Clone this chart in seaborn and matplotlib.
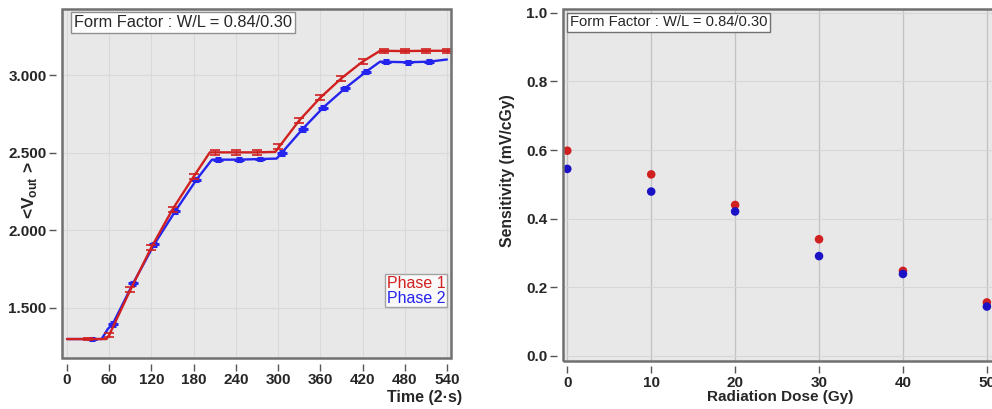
import matplotlib
matplotlib.use("Agg")
import matplotlib.pyplot as plt
from matplotlib.patches import Rectangle
import seaborn as sns
import pandas as pd

sns.set_theme(style="white")
plt.rcParams['font.family'] = ['Liberation Sans', 'DejaVu Sans']
plt.rcParams['mathtext.fontset'] = 'custom'
plt.rcParams['mathtext.bf'] = 'Liberation Sans:bold'
plt.rcParams['mathtext.rm'] = 'Liberation Sans'

RED = "#d02020"
BLUE = "#2424ee"
BLUE_DOT = "#1a12c4"
BG = "#e8e8e8"

# ---- left panel: Vout vs time ----
# line vertices
p1_line_x = [0, 56, 60, 90, 120, 150, 180, 203, 240, 270, 296, 330, 360, 390, 420, 445, 480, 510, 545]
p1_line_y = [1.300, 1.300, 1.326, 1.616, 1.891, 2.135, 2.346, 2.502, 2.502, 2.502, 2.505, 2.707, 2.854,
             2.979, 3.086, 3.156, 3.154, 3.156, 3.156]
p2_line_x = [0, 49, 54, 58, 65, 94, 124, 154, 184, 206, 244, 275, 298, 305, 335, 364, 395, 425, 445, 484, 515, 540]
p2_line_y = [1.300, 1.300, 1.335, 1.365, 1.397, 1.659, 1.910, 2.124, 2.326, 2.455, 2.455, 2.459, 2.462,
             2.498, 2.653, 2.790, 2.914, 3.021, 3.086, 3.082, 3.086, 3.100]

# error bar points
p1_err_x = [30, 60, 90, 120, 150, 180, 210, 240, 270, 300, 330, 360, 390, 420, 450, 480, 510, 540]
p1_err_y = [1.300, 1.326, 1.616, 1.891, 2.135, 2.346, 2.502, 2.502, 2.502, 2.540, 2.707, 2.854, 2.979,
            3.086, 3.156, 3.154, 3.156, 3.156]
p1_err = [0.008, 0.016, 0.016, 0.016, 0.016, 0.016, 0.014, 0.014, 0.014, 0.018, 0.016, 0.016, 0.016,
          0.014, 0.013, 0.013, 0.013, 0.013]
p2_err_x = [35, 65, 94, 124, 154, 184, 215, 244, 275, 305, 335, 364, 395, 425, 454, 484, 515]
p2_err_y = [1.300, 1.397, 1.659, 1.910, 2.124, 2.326, 2.455, 2.455, 2.459, 2.498, 2.653, 2.790, 2.914,
            3.021, 3.086, 3.082, 3.086]
p2_err = [0.006, 0.011, 0.011, 0.011, 0.011, 0.011, 0.009, 0.009, 0.009, 0.011, 0.011, 0.011, 0.011,
          0.011, 0.009, 0.009, 0.009]

time_ticks = [0, 60, 120, 180, 240, 300, 360, 420, 480, 540]
vout_ticks = [1.5, 2.0, 2.5, 3.0]

# ---- right panel: sensitivity vs dose ----
dose = [0, 10, 20, 30, 40, 50]
sens_phase1 = [0.598, 0.529, 0.440, 0.340, 0.248, 0.156]
sens_phase2 = [0.545, 0.479, 0.421, 0.291, 0.239, 0.144]
dose_ticks = [0, 10, 20, 30, 40, 50]
sens_ticks = [0.0, 0.2, 0.4, 0.6, 0.8, 1.0]

label_text = "Form Factor : W/L = 0.84/0.30"

fig = plt.figure(figsize=(9.92, 4.09), dpi=100)
ax1 = fig.add_axes([0.0625, 0.1247, 0.3921, 0.8533])
ax2 = fig.add_axes([0.5672, 0.1181, 0.4378, 0.8599])


def style_axes(ax):
    ax.set_facecolor(BG)
    for s in ax.spines.values():
        s.set_visible(False)
    ax.spines['left'].set_position(('outward', 4))
    ax.spines['bottom'].set_position(('outward', 4))
    ax.add_patch(Rectangle((0, 0), 1, 1, transform=ax.transAxes, fill=False,
                           edgecolor="#707070", linewidth=1.8, clip_on=False, zorder=5))
    ax.tick_params(axis='both', which='major', direction='out', length=5, width=1,
                   color="#555555", labelsize=11, pad=2, bottom=True, left=True)
    for lab in ax.get_xticklabels() + ax.get_yticklabels():
        lab.set_fontweight('bold')


# left panel
df1 = pd.DataFrame({"t": p1_line_x, "v": p1_line_y})
df2 = pd.DataFrame({"t": p2_line_x, "v": p2_line_y})
sns.lineplot(data=df2, x="t", y="v", ax=ax1, color=BLUE, linewidth=1.7, estimator=None, zorder=3)
sns.lineplot(data=df1, x="t", y="v", ax=ax1, color=RED, linewidth=1.7, estimator=None, zorder=4)
ax1.errorbar(p2_err_x, p2_err_y, yerr=p2_err, fmt='_', color=BLUE, ms=7, mew=2.2,
             elinewidth=1, capsize=2.5, capthick=1, zorder=3)
ax1.errorbar(p1_err_x, p1_err_y, yerr=p1_err, fmt='none', ecolor=RED,
             elinewidth=1, capsize=3.5, capthick=1.2, zorder=4)
ax1.set_xlim(-7.1, 545.7)
ax1.set_ylim(1.178, 3.425)
ax1.set_xticks(time_ticks)
ax1.set_yticks(vout_ticks)
ax1.set_yticklabels([f"{v:.3f}" for v in vout_ticks])
ax1.grid(True, color="#d9d9d9", linewidth=0.8)
ax1.set_axisbelow(True)
style_axes(ax1)
ax1.set_xlabel("Time (2·s)", fontsize=11.5, fontweight='bold')
ax1.xaxis.set_label_coords(1.028, -0.092)
ax1.xaxis.label.set_horizontalalignment('right')
ax1.set_ylabel(r"<V$_{\mathbf{out}}$ >", fontsize=12.5, fontweight='bold')
ax1.yaxis.set_label_coords(-0.058, 0.48)
ax1.text(0.03, 0.962, label_text, transform=ax1.transAxes, fontsize=11.8, va='center', ha='left',
         bbox=dict(boxstyle='square,pad=0.18', facecolor='white', edgecolor='#909090', linewidth=1),
         zorder=6)
leg = ax1.legend(handles=[plt.Line2D([], [], color=RED), plt.Line2D([], [], color=BLUE)],
                 labels=["Phase 1", "Phase 2"], loc='lower right', bbox_to_anchor=(0.99, 0.145),
                 handlelength=0, handletextpad=0, fontsize=11.5, frameon=True, fancybox=False,
                 borderpad=0.1, labelspacing=0.0, borderaxespad=0)
leg.get_frame().set_edgecolor('#909090')
leg.get_frame().set_linewidth(1)
for txt, c in zip(leg.get_texts(), [RED, BLUE]):
    txt.set_color(c)
for h in leg.legend_handles:
    h.set_visible(False)

# right panel
sens_df = pd.DataFrame({
    "dose": dose + dose,
    "sens": sens_phase1 + sens_phase2,
    "phase": ["Phase 1"] * len(dose) + ["Phase 2"] * len(dose),
})
sns.scatterplot(data=sens_df, x="dose", y="sens", hue="phase", palette=[RED, BLUE_DOT], s=38,
                edgecolor='none', ax=ax2, legend=False, zorder=3, clip_on=False)
ax2.set_xlim(-0.55, 51.2)
ax2.set_ylim(-0.0137, 1.0108)
ax2.set_xticks(dose_ticks)
ax2.set_yticks(sens_ticks)
ax2.set_yticklabels([f"{v:.1f}" for v in sens_ticks])
ax2.grid(True, axis='x', color="#c4c0c8", linewidth=0.9)
ax2.grid(True, axis='y', color="#d6d6d6", linewidth=0.8)
ax2.set_axisbelow(True)
style_axes(ax2)
ax2.set_xlabel("Radiation Dose (Gy)", fontsize=11, fontweight='bold', labelpad=0)
ax2.set_ylabel("Sensitivity (mV/cGy)", fontsize=11.3, fontweight='bold')
ax2.yaxis.set_label_coords(-0.11, 0.54)
ax2.text(0.016, 0.962, label_text, transform=ax2.transAxes, fontsize=10.6, va='center', ha='left',
         bbox=dict(boxstyle='square,pad=0.18', facecolor='white', edgecolor='#707070', linewidth=1),
         zorder=6)

fig.savefig("out.png", dpi=100)
